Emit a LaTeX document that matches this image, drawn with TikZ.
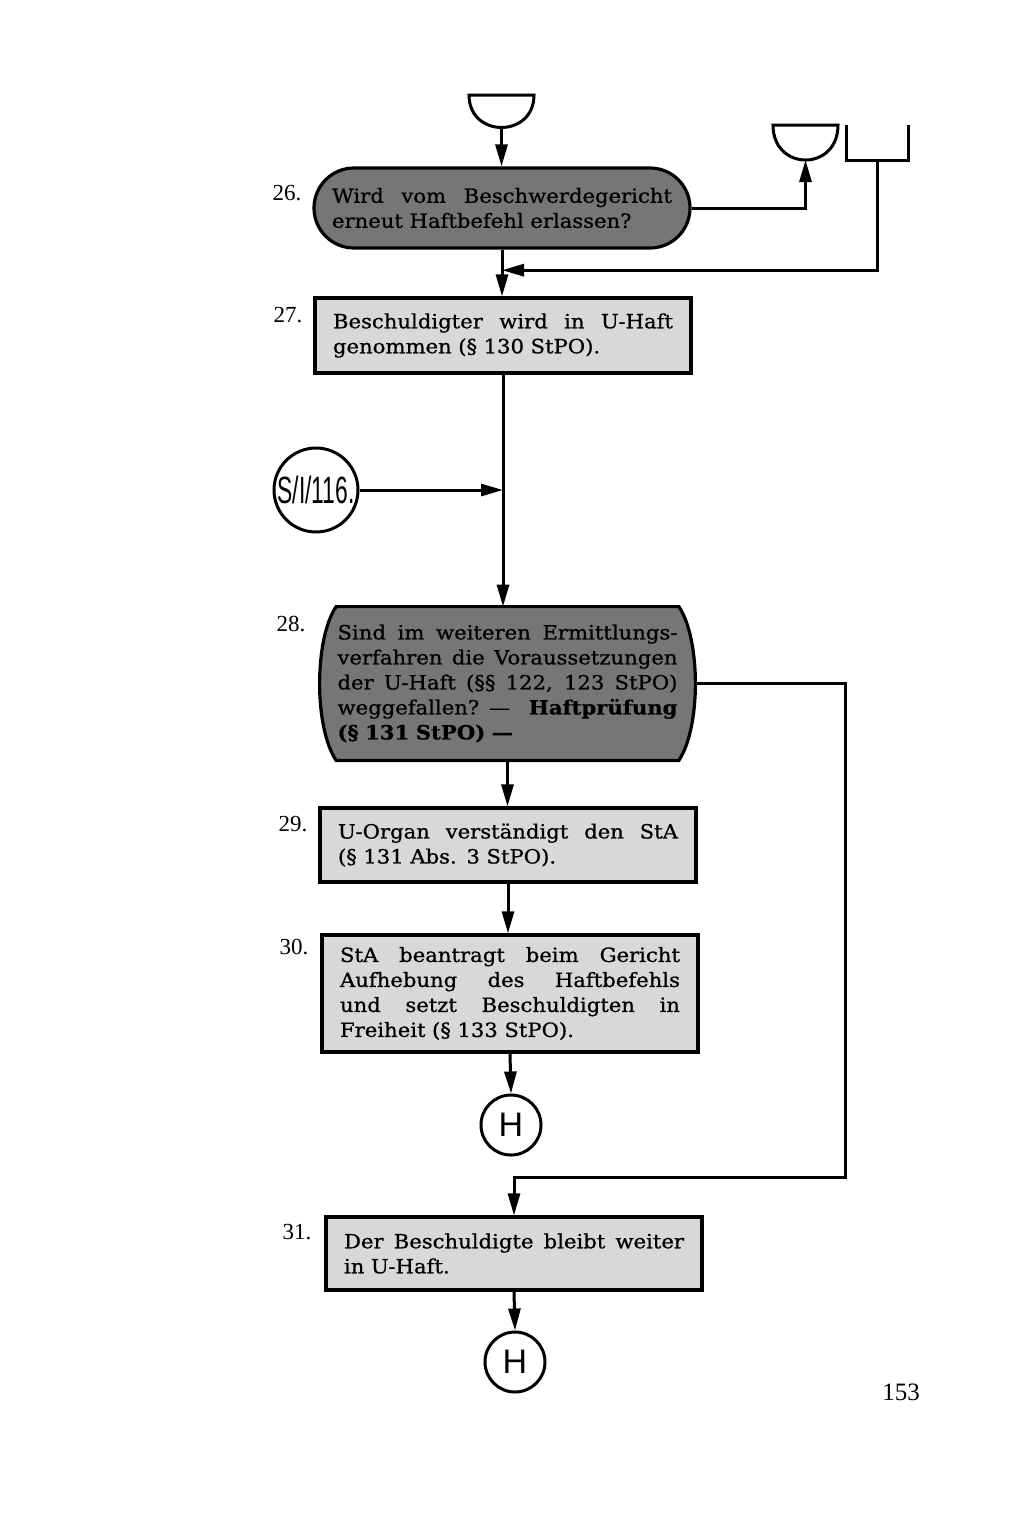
\documentclass[tikz,border=0pt]{standalone}
\usepackage{fontspec}
\setmainfont{DejaVu Serif}
\newfontfamily\boxfont{DejaVu Serif}[FakeStretch=1.08,FakeBold=0.8]
\newfontfamily\numfont{Liberation Serif}
\newfontfamily\symfont{Liberation Sans}
\usetikzlibrary{arrows.meta,calc,backgrounds}
\newcommand{\jl}[1]{\makebox[170pt][s]{\spaceskip=0.3em plus 1fil\relax #1}}
\definecolor{darkfill}{RGB}{118,118,118}
\definecolor{lightfill}{RGB}{216,216,216}
\tikzset{
  arr/.style={-{Triangle[length=11pt,width=6pt]}, line width=1.5pt},
  plain/.style={line width=1.5pt},
  txtbox/.style={text width=170pt, inner xsep=9pt, inner ysep=0pt, align=left,
    font={\boxfont\fontsize{9.8}{12.5}\selectfont}},
  lbox/.style={txtbox, draw, line width=1.6pt, fill=lightfill},
  dround/.style={txtbox, draw, line width=1.6pt, fill=darkfill, rounded corners=20pt},
  numlbl/.style={inner sep=0pt, font={\numfont\fontsize{11.5}{13}\selectfont}},
  conn/.style={circle, draw, line width=1.5pt, inner sep=0pt, fill=white},
  hconn/.style={conn, minimum size=30pt, font={\symfont\fontsize{17}{17}\selectfont}}
}
\begin{document}
\begin{tikzpicture}[x=0.5pt,y=-0.5pt]
\begin{scope}[on background layer]
\fill[white] (0,0) rectangle (1024,1516);
\end{scope}
\useasboundingbox (0,0) rectangle (1024,1516);

% top connectors
\draw[plain] (469,95) -- (534,95) .. controls (534,138.3) and (469,138.3) .. cycle;
\coordinate (c1b) at (501.5,127.5);
\draw[plain] (773,125) -- (838,125) .. controls (838,171.7) and (773,171.7) .. cycle;
\coordinate (c2b) at (805.5,160);
\draw[plain] (846,125) -- (846,160) -- (908,160) -- (908,125);
\coordinate (ob) at (877,160);

% nodes
\node[dround, minimum height=40pt] (n26) at (502,208)
  {\jl{Wird vom Beschwerdegericht}\\erneut Haftbefehl erlassen?};
\node[lbox, minimum height=37.5pt] (n27) at (503,335.5)
  {\jl{Beschuldigter wird in U-Haft}\\genommen (§ 130 StPO).};
\node[conn, minimum size=42pt] (sI) at (316,490)
  {\scalebox{0.6}[1]{\symfont\fontsize{19}{19}\selectfont S/I/116.}};
\node[txtbox, minimum height=76.5pt] (n28) at (507.5,683.5)
  {\jl{Sind im weiteren Ermittlungs-}\\\jl{verfahren die Voraussetzungen}\\\jl{der U-Haft (§§ 122, 123 StPO)}\\\jl{weggefallen? — \textbf{Haftprüfung}}\\\textbf{(§ 131 StPO) —}};
\begin{scope}[on background layer]
\path[fill=darkfill, draw, line width=1.6pt]
  ($(n28.north west)+(17,0)$) -- ($(n28.north east)+(-17,0)$)
  .. controls ($(n28.north east)+(5,33)$) and ($(n28.south east)+(5,-33)$) .. ($(n28.south east)+(-17,0)$)
  -- ($(n28.south west)+(17,0)$)
  .. controls ($(n28.south west)+(-5,-33)$) and ($(n28.north west)+(-5,33)$) .. cycle;
\end{scope}
\node[lbox, minimum height=37pt] (n29) at (508,845)
  {\jl{U-Organ verständigt den StA}\\(§ 131 Abs. 3 StPO).};
\node[lbox, minimum height=58.5pt] (n30) at (510,993.5)
  {\jl{StA beantragt beim Gericht}\\\jl{Aufhebung des Haftbefehls}\\\jl{und setzt Beschuldigten in}\\Freiheit (§ 133 StPO).};
\node[hconn] (h1) at (511,1125) {H};
\node[lbox, minimum height=36.5pt] (n31) at (514,1253.5)
  {\jl{Der Beschuldigte bleibt weiter}\\in U-Haft.};
\node[hconn] (h2) at (515,1362) {H};

% labels
\node[numlbl] (l26) at (287,193) {26.};
\node[numlbl] (l27) at (288,315) {27.};
\node[numlbl] (l28) at (291,624) {28.};
\node[numlbl] (l29) at (293,824) {29.};
\node[numlbl] (l30) at (294,947) {30.};
\node[numlbl] (l31) at (297,1232) {31.};
\node[inner sep=0pt, font={\numfont\fontsize{12.5}{14}\selectfont}] (pg) at (901,1392) {153};

% connectors
\coordinate (j2) at ($(n26.south)!0.44!(n26.south |- n27.north)$);
\coordinate (j1) at (n27.south |- sI);
\coordinate (k1) at (845,1177);
\draw[arr] (c1b) -- (c1b |- n26.north);
\draw[arr] (n26.east) -| (c2b);
\draw[arr] (n26.south) -- (n26.south |- n27.north);
\draw[arr] (ob) |- (j2);
\draw[arr] (n27.south) -- (n27.south |- n28.north);
\draw[arr] (sI) -- (j1);
\draw[arr] (n28.south) -- (n28.south |- n29.north);
\draw[arr] (n28.east) -| (k1) -| (n31.north);
\draw[arr] (n29.south) -- (n29.south |- n30.north);
\draw[arr] (n30.south) -- (h1.north);
\draw[arr] (n31.south) -- (h2.north);
\end{tikzpicture}
\end{document}
